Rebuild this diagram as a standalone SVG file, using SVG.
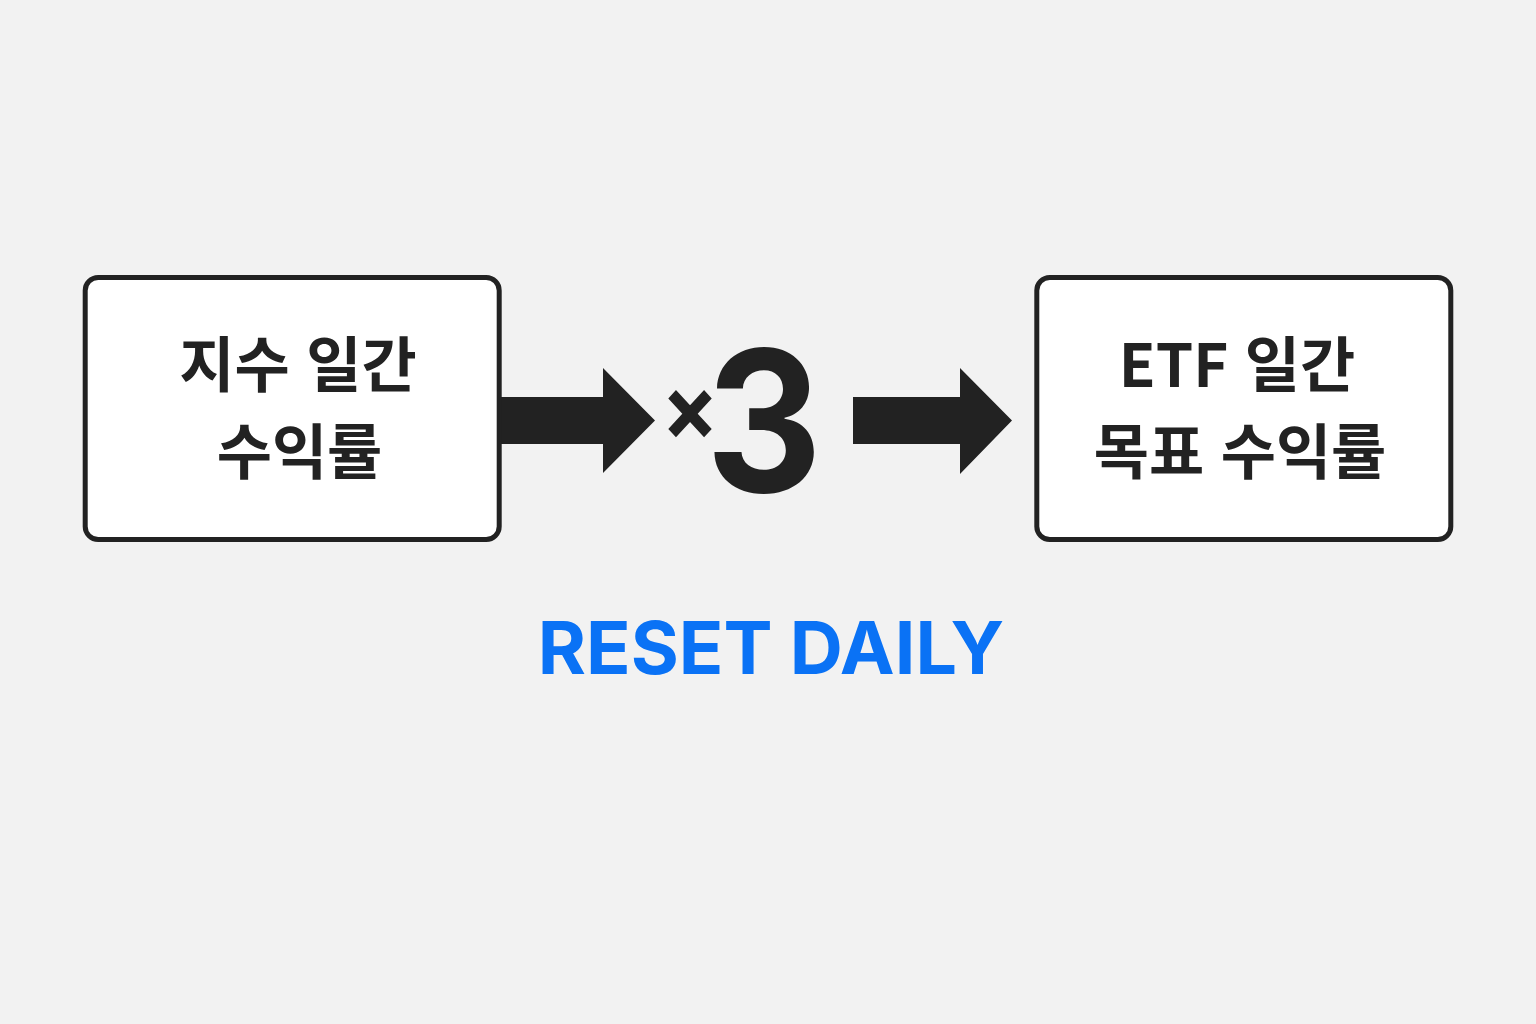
<svg xmlns="http://www.w3.org/2000/svg" width="1536" height="1024" viewBox="0 0 1536 1024">
<style>
.box{fill:#ffffff;stroke:#222222;stroke-width:5}
.kt{font-family:"Noto Sans CJK KR","Noto Sans",sans-serif;font-weight:700;font-size:60px;fill:#222222;text-anchor:middle;word-spacing:3px}
.arrow{fill:#222222}
.big{font-family:Inter,"Liberation Sans",sans-serif;font-weight:700;fill:#222222}
.reset{font-family:Inter,"Liberation Sans",sans-serif;font-weight:700;font-size:73.5px;fill:#0A72F5;text-anchor:middle}
</style>
<rect width="1536" height="1024" fill="#F2F2F2"/>
<g id="connectors">
<polygon class="arrow" points="500,397 603,397 603,368 655,420.5 603,473 603,444 500,444"/>
<polygon class="arrow" points="853,397 960,397 960,368 1012,420.5 960,474 960,444 853,444"/>
</g>
<g id="node-index">
<rect class="box" x="85.2" y="277.5" width="414" height="262" rx="13"/>
<text class="kt" x="298" y="387">지수 일간</text>
<text class="kt" x="299.5" y="474">수익률</text>
</g>
<g id="node-multiplier">
<text class="big" transform="scale(0.92,1)" text-anchor="middle"><tspan x="750" y="440" font-size="92">×</tspan><tspan x="830.4" y="492" font-size="196">3</tspan></text>
</g>
<g id="node-etf">
<rect class="box" x="1036.8" y="277.5" width="414" height="262" rx="13"/>
<text class="kt" x="1237" y="387">ETF 일간</text>
<text class="kt" x="1240" y="474">목표 수익률</text>
</g>
<g id="label-reset">
<text class="reset" x="771" y="674">RESET DAILY</text>
</g>
</svg>
